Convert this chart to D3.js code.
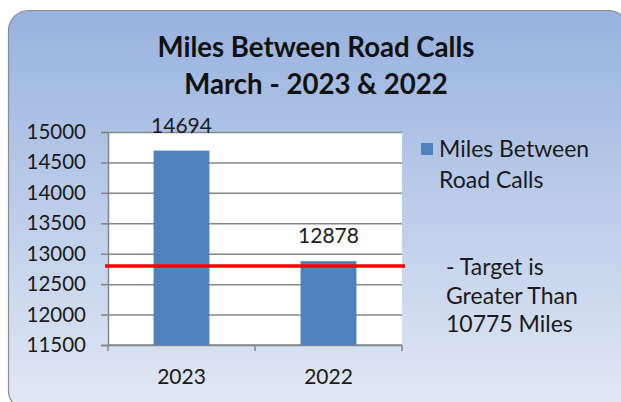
<!DOCTYPE html>
<html>
<head>
<meta charset="utf-8">
<script src="https://cdn.jsdelivr.net/npm/d3@7"></script>
<style>
  body { margin: 0; background: #fff; }
  svg { display: block; font-family: Lato, "Open Sans", sans-serif; }
</style>
</head>
<body>
<div id="chart-area"></div>
<script>
// data
var years = ["2023", "2022"]
var miles = [14694, 12878]
var target = 12800
var yTicks = [11500, 12000, 12500, 13000, 13500, 14000, 14500, 15000]
var titleLines = ["Miles Between Road Calls", "March - 2023 & 2022"]
var legendLines = ["Miles Between", "Road Calls"]
var noteLines = ["- Target is", "Greater Than", "10775 Miles"]

var width = 621,
    height = 402

var svg = d3.select("#chart-area").append("svg")
    .attr("width", width)
    .attr("height", height)

var defs = svg.append("defs")
var grad = defs.append("linearGradient")
    .attr("id", "bg")
    .attr("x1", 0).attr("y1", 0)
    .attr("x2", 0).attr("y2", 1)
grad.append("stop").attr("offset", "0%").attr("stop-color", "#97b2df")
grad.append("stop").attr("offset", "100%").attr("stop-color", "#e2e8f5")

// outer frame
svg.append("rect")
    .attr("x", 8.5).attr("y", 10.5)
    .attr("width", 620).attr("height", 400)
    .attr("rx", 20)
    .attr("fill", "url(#bg)")
    .attr("stroke", "#8c8c8c")
    .attr("stroke-width", 1.2)

// title
svg.append("g").selectAll("text")
    .data(titleLines)
    .enter().append("text")
    .attr("x", 316)
    .attr("y", function(d, i) { return 47 + i * 37 })
    .attr("dy", "0.35em")
    .attr("text-anchor", "middle")
    .attr("font-size", 27.6)
    .attr("font-weight", "bold")
    .attr("fill", "#111")
    .text(function(d) { return d })

var x = d3.scaleBand()
    .domain(years)
    .range([108, 402])
    .paddingInner(0.62)
    .paddingOuter(0.31)

var y = d3.scaleLinear()
    .domain([11500, 15000])
    .range([345, 132])

// plot area
svg.append("rect")
    .attr("x", 108).attr("y", 132)
    .attr("width", 294).attr("height", 213)
    .attr("fill", "#fff")

// gridlines + y ticks
var yAxis = svg.append("g")
    .attr("transform", "translate(108,0)")
    .call(d3.axisLeft(y).tickValues(yTicks).tickSize(7).tickFormat(d3.format("d")).tickPadding(15))
yAxis.select(".domain").attr("stroke", "#868686").attr("stroke-width", 1.5)
yAxis.selectAll(".tick line").attr("stroke", "#868686").attr("stroke-width", 1.5)
yAxis.selectAll(".tick").append("line")
    .attr("x1", 0).attr("x2", 294)
    .attr("stroke", "#868686")
    .attr("stroke-width", 1.5)
yAxis.selectAll(".tick text")
    .attr("font-size", 20.5)
    .attr("fill", "#1a1a1a")
    .attr("font-family", "Lato, sans-serif")

// x axis with tick marks at category boundaries
var xAxis = svg.append("g")
    .attr("transform", "translate(0,345)")
xAxis.append("line")
    .attr("x1", 108).attr("x2", 402)
    .attr("stroke", "#868686").attr("stroke-width", 1.5)
var bounds = [108].concat(years.map(function(d) { return x(d) + x.bandwidth() + x.step() * x.paddingInner() / 2 }))
xAxis.selectAll("line.tk")
    .data(bounds)
    .enter().append("line")
    .attr("class", "tk")
    .attr("x1", function(d) { return d }).attr("x2", function(d) { return d })
    .attr("y1", 0).attr("y2", 6)
    .attr("stroke", "#868686").attr("stroke-width", 1.5)
xAxis.selectAll("text")
    .data(years)
    .enter().append("text")
    .attr("x", function(d) { return x(d) + x.bandwidth() / 2 })
    .attr("y", 32)
    .attr("dy", "0.35em")
    .attr("text-anchor", "middle")
    .attr("font-size", 21)
    .attr("fill", "#1a1a1a")
    .text(function(d) { return d })

// bars
svg.append("g").selectAll("rect")
    .data(years)
    .enter().append("rect")
    .attr("x", function(d) { return x(d) })
    .attr("y", function(d, i) { return y(miles[i]) })
    .attr("width", x.bandwidth())
    .attr("height", function(d, i) { return y(11500) - y(miles[i]) })
    .attr("fill", "#4f81bd")

// value labels
svg.append("g").selectAll("text")
    .data(years)
    .enter().append("text")
    .attr("x", function(d) { return x(d) + x.bandwidth() / 2 })
    .attr("y", function(d, i) { return y(miles[i]) - 25 })
    .attr("dy", "0.35em")
    .attr("text-anchor", "middle")
    .attr("font-size", 21)
    .attr("fill", "#1a1a1a")
    .text(function(d, i) { return miles[i] })

// target line
svg.append("line")
    .attr("x1", 105).attr("x2", 405)
    .attr("y1", y(target)).attr("y2", y(target))
    .attr("stroke", "#ff0000")
    .attr("stroke-width", 3.5)

// legend
svg.append("rect")
    .attr("x", 421).attr("y", 143)
    .attr("width", 12).attr("height", 12)
    .attr("fill", "#4f81bd")
svg.append("g").selectAll("text")
    .data(legendLines)
    .enter().append("text")
    .attr("x", 439)
    .attr("y", function(d, i) { return 149 + i * 31 })
    .attr("dy", "0.35em")
    .attr("font-size", 23)
    .attr("fill", "#1a1a1a")
    .text(function(d) { return d })

svg.append("g").selectAll("text")
    .data(noteLines)
    .enter().append("text")
    .attr("x", 446)
    .attr("y", function(d, i) { return 267 + i * 28.5 })
    .attr("dy", "0.35em")
    .attr("font-size", 23)
    .attr("fill", "#1a1a1a")
    .text(function(d) { return d })
</script>
</body>
</html>
